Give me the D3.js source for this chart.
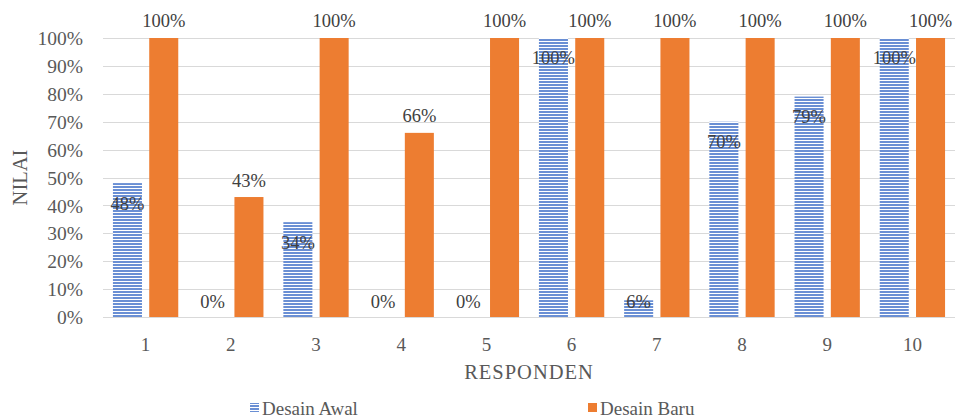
<!DOCTYPE html>
<html>
<head>
<meta charset="utf-8">
<script src="https://cdn.jsdelivr.net/npm/d3@7"></script>
<style>
  html, body { margin: 0; padding: 0; background: #fff; }
  svg { display: block; font-family: "Liberation Serif", "Times New Roman", serif; }
</style>
</head>
<body>
<svg id="chart" width="957" height="419"></svg>
<script>
// Responden scores before and after the redesign
const categories = ["1", "2", "3", "4", "5", "6", "7", "8", "9", "10"];
const desainAwal = [0.48, 0, 0.34, 0, 0, 1.00, 0.06, 0.70, 0.79, 1.00];
const desainBaru = [1.00, 0.43, 1.00, 0.66, 1.00, 1.00, 1.00, 1.00, 1.00, 1.00];
const seriesNames = ["Desain Awal", "Desain Baru"];
const yTicks = [0, 0.1, 0.2, 0.3, 0.4, 0.5, 0.6, 0.7, 0.8, 0.9, 1.0];

const svg = d3.select("#chart");
const margin = { left: 103, right: 2, top: 38, bottom: 102 };
const W = 957, H = 419;
const plotRight = W - margin.right;
const plotBottom = H - margin.bottom;

const x0 = d3.scaleBand().domain(categories).range([margin.left, plotRight]).padding(0);
const x1 = d3.scaleBand().domain(seriesNames).range([0, x0.bandwidth()])
  .paddingInner(0.2).paddingOuter(0.274);
const y = d3.scaleLinear().domain([0, 1]).range([plotBottom, margin.top]);

// horizontal stripe fill for the first series
const defs = svg.append("defs");
const pat = defs.append("pattern")
  .attr("id", "stripes").attr("patternUnits", "userSpaceOnUse")
  .attr("width", 6).attr("height", 3);
pat.append("rect").attr("width", 6).attr("height", 3).attr("fill", "#ffffff");
pat.append("rect").attr("width", 6).attr("height", 2).attr("fill", "#6a8fd4");

// gridlines
svg.append("g")
  .selectAll("line").data(yTicks).join("line")
  .attr("x1", margin.left).attr("x2", plotRight)
  .attr("y1", d => Math.round(y(d)) + 0.5).attr("y2", d => Math.round(y(d)) + 0.5)
  .attr("stroke", "#d9d9d9").attr("stroke-width", 1);

// y axis labels
const yAxis = d3.axisLeft(y).tickValues(yTicks).tickFormat(d3.format(".0%")).tickSize(0).tickPadding(0);
const gy = svg.append("g").attr("transform", `translate(${margin.left - 20},0)`).call(yAxis);
gy.select(".domain").remove();
gy.selectAll("text")
  .attr("font-family", "Liberation Serif, serif").attr("font-size", 19.5)
  .attr("fill", "#595959").attr("dy", "0.34em");

// x axis
const xAxis = d3.axisBottom(x0).tickSize(0).tickPadding(0);
const gx = svg.append("g").attr("transform", `translate(0,${plotBottom})`).call(xAxis);
gx.select(".domain").attr("stroke", "#d9d9d9").attr("d", `M${margin.left},0.5H${plotRight}`);
gx.selectAll("text")
  .attr("font-family", "Liberation Serif, serif").attr("font-size", 19)
  .attr("fill", "#595959").attr("y", 34).attr("dy", 0);

const rows = categories.map((c, i) => ({ c, awal: desainAwal[i], baru: desainBaru[i] }));

const groups = svg.append("g").selectAll("g").data(rows).join("g")
  .attr("transform", d => `translate(${x0(d.c)},0)`);

// Desain Awal bars
groups.append("rect")
  .attr("x", x1("Desain Awal")).attr("width", x1.bandwidth())
  .attr("y", d => y(d.awal)).attr("height", d => y(0) - y(d.awal))
  .attr("fill", "url(#stripes)");

// Desain Baru bars
groups.append("rect")
  .attr("x", x1("Desain Baru")).attr("width", x1.bandwidth())
  .attr("y", d => y(d.baru)).attr("height", d => y(0) - y(d.baru))
  .attr("fill", "#ed7d31");

const fmt = d3.format(".0%");
// labels: inside end for Desain Awal, outside end for Desain Baru
groups.append("text")
  .attr("x", x1("Desain Awal") + x1.bandwidth() / 2)
  .attr("y", d => Math.min(y(d.awal) + 20, y(0) - 15))
  .attr("dy", "0.35em").attr("text-anchor", "middle")
  .attr("font-size", 18.5).attr("fill", "#404040")
  .text(d => fmt(d.awal));

groups.append("text")
  .attr("x", x1("Desain Baru") + x1.bandwidth() / 2)
  .attr("y", d => y(d.baru) - 17)
  .attr("dy", "0.35em").attr("text-anchor", "middle")
  .attr("font-size", 18.5).attr("fill", "#404040")
  .text(d => fmt(d.baru));

// axis titles
svg.append("text")
  .attr("x", (margin.left + plotRight) / 2).attr("y", 379)
  .attr("text-anchor", "middle").attr("font-size", 20.5).attr("letter-spacing", 1)
  .attr("fill", "#595959")
  .text("RESPONDEN");
svg.append("text")
  .attr("transform", `translate(27,${(margin.top + plotBottom) / 2}) rotate(-90)`)
  .attr("text-anchor", "middle").attr("font-size", 20.5).attr("fill", "#595959")
  .text("NILAI");

// legend
const legend = svg.append("g");
const legendItems = [
  { name: seriesNames[0], fill: "url(#stripes)", x: 250 },
  { name: seriesNames[1], fill: "#ed7d31", x: 588 }
];
const li = legend.selectAll("g").data(legendItems).join("g")
  .attr("transform", d => `translate(${d.x},408)`);
li.append("rect").attr("x", 0).attr("y", -5).attr("width", 9).attr("height", 9)
  .attr("fill", d => d.fill);
li.append("text").attr("x", 12).attr("y", 0).attr("dy", "0.35em")
  .attr("font-size", 19).attr("fill", "#595959")
  .text(d => d.name);
</script>
</body>
</html>
